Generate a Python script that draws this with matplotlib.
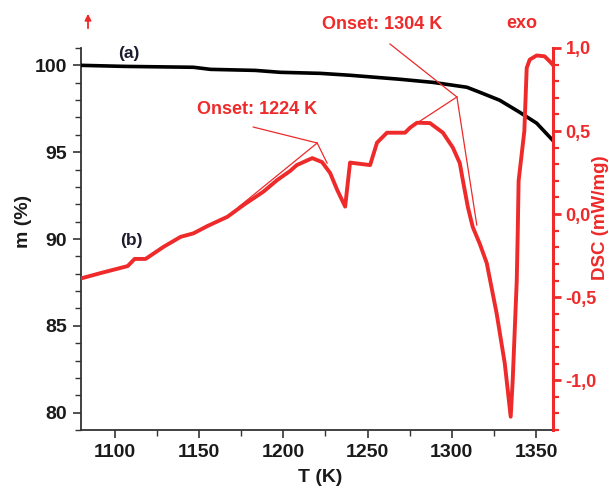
import matplotlib
import numpy as np
import matplotlib.pyplot as plt
from matplotlib.ticker import MultipleLocator

matplotlib.use('Agg')

plt.rcParams['font.family'] = ['Liberation Sans', 'DejaVu Sans']
plt.rcParams['font.weight'] = 'bold'

RED = '#ee2a2a'

# TG curve (a)
T_tg = [1080.5, 1106.5, 1146.7, 1156.8, 1183.4, 1198.2, 1221.9, 1239.6, 1269.2,
        1288.8, 1308.9, 1316.6, 1328.4, 1340.2, 1350.3, 1359.8]
m_tg = [100.0, 99.94, 99.89, 99.77, 99.71, 99.6, 99.54, 99.43, 99.2,
        99.02, 98.74, 98.45, 97.99, 97.3, 96.67, 95.69]

# DSC curve (b)
T_dsc = [1080.5, 1091.7, 1107.7, 1111.8, 1118.3, 1129.0, 1139.1, 1146.7, 1155.0,
         1166.9, 1176.3, 1188.2, 1196.4, 1204.1, 1208.0, 1217.2, 1223.0, 1227.8,
         1232.0, 1236.7, 1239.6, 1251.5, 1255.6, 1261.5, 1269.2, 1272.2, 1275.2,
         1279.3, 1287.0, 1294.7, 1300.6, 1304.7, 1306.5, 1309.5, 1312.4, 1316.6,
         1320.7, 1326.6, 1331.4, 1334.9, 1336.1, 1338.5, 1339.1, 1339.6, 1343.0,
         1344.4, 1346.2, 1350.3, 1355.0, 1358.0, 1359.8]
dsc = [-0.386, -0.355, -0.313, -0.27, -0.27, -0.197, -0.137, -0.116, -0.072,
       -0.016, 0.054, 0.135, 0.205, 0.26, 0.295, 0.337, 0.313, 0.247,
       0.145, 0.045, 0.31, 0.295, 0.43, 0.49, 0.49, 0.49, 0.52,
       0.55, 0.548, 0.49, 0.40, 0.307, 0.205, 0.042, -0.078, -0.18,
       -0.295, -0.6, -0.9, -1.22, -1.0, -0.4, -0.1, 0.2, 0.5,
       0.88, 0.93, 0.955, 0.95, 0.92, 0.9]

# onset constructions (T, DSC): label anchor, apex, tangent ends
onset1_T = [1182.2, 1220.1, 1173.4, 1220.1, 1226.0]
onset1_v = [0.524, 0.428, 0.042, 0.428, 0.307]
onset2_T = [1263.3, 1303.0, 1281.1, 1303.0, 1314.8]
onset2_v = [1.024, 0.705, 0.56, 0.705, -0.066]

fig = plt.figure(figsize=(6.14, 4.9), dpi=100)
ax = fig.add_axes([81 / 614, 1 - 430 / 490, 472 / 614, 382 / 490])
ax2 = ax.twinx()

ax.plot(T_tg, m_tg, color='black', lw=2.6, zorder=3)
ax2.plot(T_dsc, dsc, color=RED, lw=2.8, solid_joinstyle='round')

for tt, vv in [(onset1_T, onset1_v), (onset2_T, onset2_v)]:
    ax2.plot(tt[:2], vv[:2], color=RED, lw=0.9, clip_on=False)
    ax2.plot(tt[1:3], vv[1:3], color=RED, lw=0.9)
    ax2.plot(tt[3:], vv[3:], color=RED, lw=0.9)

ax.set_xlim(1080, 1360)
ax.set_ylim(79, 101)
ax2.set_ylim(-1.3, 1.0)

ax.xaxis.set_major_locator(MultipleLocator(50))
ax.xaxis.set_minor_locator(MultipleLocator(25))
ax.yaxis.set_major_locator(MultipleLocator(5))
ax.yaxis.set_minor_locator(MultipleLocator(1))
ax2.yaxis.set_major_locator(MultipleLocator(0.5))
ax2.yaxis.set_minor_locator(MultipleLocator(0.1))
ax2.yaxis.set_major_formatter(lambda v, p: f'{v:.1f}'.replace('.', ','))

for a in (ax, ax2):
    a.spines['top'].set_visible(False)
ax.spines['right'].set_visible(False)
ax2.spines['left'].set_visible(False)
ax2.spines['bottom'].set_visible(False)
ax2.spines['right'].set_color(RED)
ax2.spines['right'].set_linewidth(2.2)
ax.spines['left'].set_color('#333333')
ax.spines['bottom'].set_color('#333333')
ax.spines['left'].set_linewidth(1.3)
ax.spines['bottom'].set_linewidth(1.3)

ax.tick_params(which='major', direction='out', length=6, width=1.2, colors='#333333',
               labelsize=14, pad=4, labelcolor='#1a1a1a')
ax.tick_params(which='minor', direction='out', length=4, width=1.0, colors='#333333')
ax2.tick_params(which='major', direction='out', length=6, width=2.0, colors=RED,
                labelsize=13, pad=3)
ax2.tick_params(which='minor', direction='out', length=4, width=1.6, colors=RED)

ax.set_xlabel('T (K)', fontsize=14, fontweight='bold', color='#1a1a1a')
ax.set_ylabel('m (%)', fontsize=14, fontweight='bold', color='#1a1a1a')
ax2.set_ylabel('DSC (mW/mg)', fontsize=13.5, fontweight='bold', color=RED)
ax.xaxis.set_label_coords(0.506, -0.102)
ax.yaxis.set_label_coords(-0.104, 0.545)
ax2.yaxis.set_label_coords(1.083, 0.555)

ax.text(1108.3, 100.69, '(a)', fontsize=12.5, fontweight='bold', color='#1c1c2e',
        ha='center', va='center')
ax.text(1110, 89.94, '(b)', fontsize=12.5, fontweight='bold', color='#1c1c2e',
        ha='center', va='center')
ax2.text(1184.6, 0.627, 'Onset: 1224 K', fontsize=13, fontweight='bold', color=RED,
         ha='center', va='center')
ax2.text(1258.9, 1.139, 'Onset: 1304 K', fontsize=13, fontweight='bold', color=RED,
         ha='center', va='center', clip_on=False)
ax2.text(1341.4, 1.15, 'exo', fontsize=13, fontweight='bold', color=RED,
         ha='center', va='center', clip_on=False)

fig.patches.append(matplotlib.patches.FancyArrowPatch(
    (88 / 614, 1 - 31 / 490), (88 / 614, 1 - 11 / 490), transform=fig.transFigure,
    arrowstyle='-|>', mutation_scale=9, color=RED, lw=1.3))

fig.savefig('out.png', dpi=100)
